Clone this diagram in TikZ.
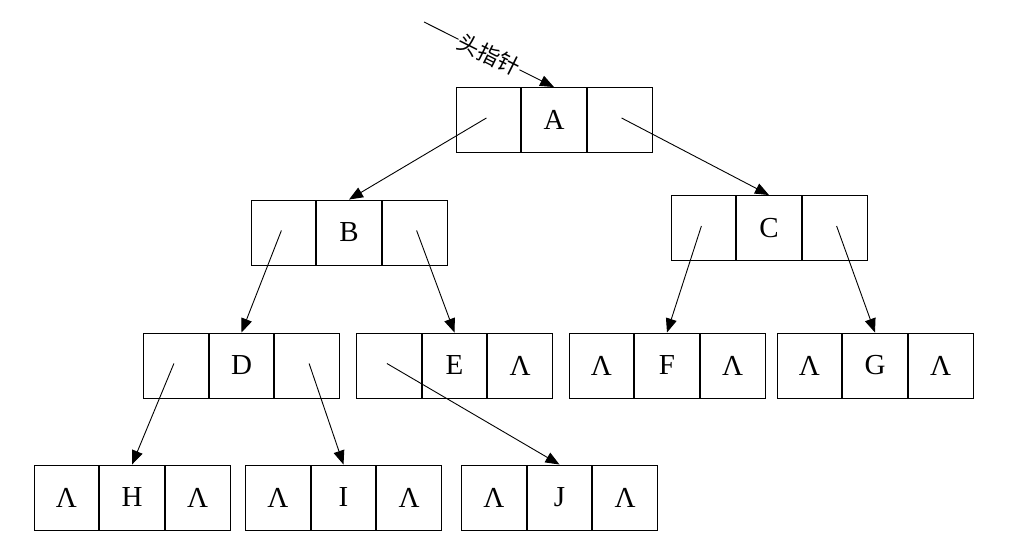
\documentclass[tikz,border=0pt]{standalone}
\usepackage{fontspec}
\setmainfont{Liberation Serif}
\newfontfamily\cjk{Noto Sans CJK SC}
\usetikzlibrary{arrows.meta}
\tikzset{
  cell/.style={draw,line width=0.9pt,minimum width=64.7pt,minimum height=65pt,inner sep=0pt,font=\fontsize{29}{32}\selectfont},
  link/.style={line width=0.9pt,-{Triangle[length=14pt,width=11pt]}}
}
\newcommand\trinode[6]{%
  \node[cell] (#1m) at (#2,#3) {#5};
  \node[cell,anchor=east] (#1l) at (#1m.west) {#4};
  \node[cell,anchor=west] (#1r) at (#1m.east) {#6};
  \coordinate (#1lp) at ([xshift=-2pt,yshift=2pt]#1l.center);
  \coordinate (#1rp) at ([xshift=2pt,yshift=2pt]#1r.center);
}
\begin{document}
\begin{tikzpicture}[x=1pt,y=-1pt]
\useasboundingbox (0,0) rectangle (1010,556);
\trinode{A}{554}{120}{}{A}{}
\trinode{B}{349}{232.5}{}{B}{}
\trinode{C}{769}{228}{}{C}{}
\trinode{D}{241.5}{365.5}{}{D}{}
\trinode{E}{454.5}{365.5}{}{E}{Λ}
\trinode{F}{667}{365.5}{Λ}{F}{Λ}
\trinode{G}{875}{365.5}{Λ}{G}{Λ}
\trinode{H}{132}{497.5}{Λ}{H}{Λ}
\trinode{I}{343.5}{497.5}{Λ}{I}{Λ}
\trinode{J}{559.5}{497.5}{Λ}{J}{Λ}
\coordinate (head) at (424,22);
\draw[link] (head) -- node[sloped,fill=white,inner sep=1pt,font=\cjk\fontsize{22}{24}\selectfont]{头指针} (Am.north);
\draw[link] (Alp) -- (Bm.north);
\draw[link] (Arp) -- (Cm.north);
\draw[link] (Blp) -- (Dm.north);
\draw[link] (Brp) -- (Em.north);
\draw[link] (Clp) -- (Fm.north);
\draw[link] (Crp) -- (Gm.north);
\draw[link] (Dlp) -- (Hm.north);
\draw[link] (Drp) -- (Im.north);
\draw[link] (Elp) -- (Jm.north);
\end{tikzpicture}
\end{document}
